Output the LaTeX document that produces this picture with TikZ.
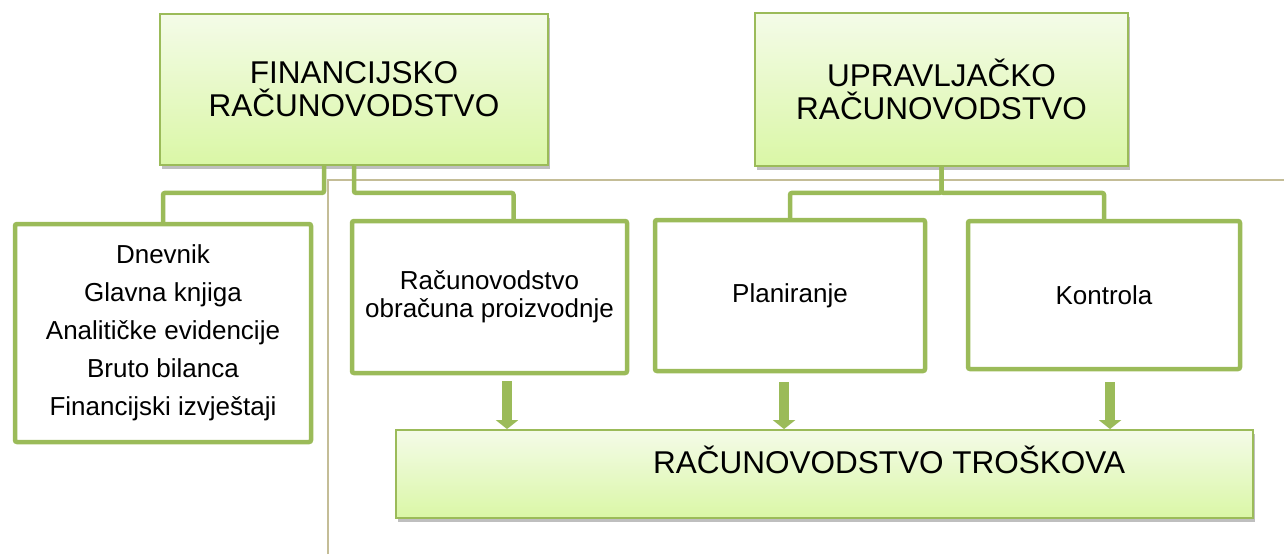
\documentclass[tikz,border=0pt]{standalone}
\usepackage{fontspec}
\setmainfont{Liberation Sans}
\usetikzlibrary{arrows.meta,shadows,calc}
\definecolor{gr}{HTML}{9BBB59}
\definecolor{gtop}{HTML}{F4FBE8}
\definecolor{gbot}{HTML}{DAF7A6}
\definecolor{tan}{HTML}{C4BD97}
\tikzset{
  topbox/.style={draw=gr, line width=1.8pt, top color=gtop, bottom color=gbot,
    inner sep=0pt, align=center, font=\fontsize{31.5}{33}\selectfont,
    drop shadow={shadow xshift=1.5pt, shadow yshift=-4pt, opacity=0.25, fill=black}},
  lowbox/.style={draw=gr, line width=4.5pt, fill=white, rounded corners=2pt,
    inner sep=0pt, align=center, font=\fontsize{26}{38}\selectfont},
  conn/.style={draw=gr, line width=4.5pt, rounded corners=2pt},
  bigarrow/.style={draw=gr, line width=10pt, -{Triangle[width=22pt,length=9pt]}},
  grayline/.style={draw=tan, line width=2pt},
  biglabel/.style={inner sep=0pt, font=\fontsize{31.5}{33}\selectfont},
}
\begin{document}
\begin{tikzpicture}[x=1pt,y=-1pt]
\useasboundingbox (0,0) rectangle (1284,554);
% separator lines
\coordinate (g1) at (328,554);
\coordinate (g2) at (328,180);
\coordinate (g3) at (1284,180);
\draw[grayline] (g1) -- (g2) -- (g3);
% top boxes
\node[topbox, minimum width=388, minimum height=151] (fin) at (354,89.5) {FINANCIJSKO\\RAČUNOVODSTVO};
\node[topbox, minimum width=373, minimum height=153] (upr) at (941.5,89.5) {UPRAVLJAČKO\\RAČUNOVODSTVO};
% lower boxes
\node[lowbox, minimum width=296, minimum height=218] (list) at (163,333)
  {Dnevnik\\Glavna knjiga\\Analitičke evidencije\\Bruto bilanca\\Financijski izvještaji};
\node[lowbox, minimum width=275, minimum height=152, font=\fontsize{26}{28}\selectfont] (b2) at (489.5,297)
  {Računovodstvo\\obračuna proizvodnje};
\node[lowbox, minimum width=270, minimum height=151] (plan) at (790,295.5) {Planiranje};
\node[lowbox, minimum width=272, minimum height=148] (kon) at (1104,295) {Kontrola};
% bottom box
\node[draw=gr, line width=1.8pt, top color=gtop, bottom color=gbot, minimum width=857, minimum height=88,
  drop shadow={shadow xshift=1.5pt, shadow yshift=-4pt, opacity=0.25, fill=black}] (cost) at (824.5,474) {};
\node[biglabel] (costlbl) at (889,460) {RAČUNOVODSTVO TROŠKOVA};
% connectors
\draw[conn] ($(fin.south)+(-30,0)$) -- ++(0,27) -| (list.north);
\draw[conn] (fin.south) -- ++(0,27) -| ($(b2.north)+(24,0)$);
\draw[conn] (upr.south) -- ++(0,26) -| (plan.north);
\draw[conn] (upr.south) -- ++(0,26) -| (kon.north);
% arrows
\coordinate (a1) at (507,381);
\coordinate (a2) at (784,382);
\coordinate (a3) at (1110,382);
\draw[bigarrow] (a1) -- (a1 |- cost.north);
\draw[bigarrow] (a2) -- (a2 |- cost.north);
\draw[bigarrow] (a3) -- (a3 |- cost.north);
\end{tikzpicture}
\end{document}
